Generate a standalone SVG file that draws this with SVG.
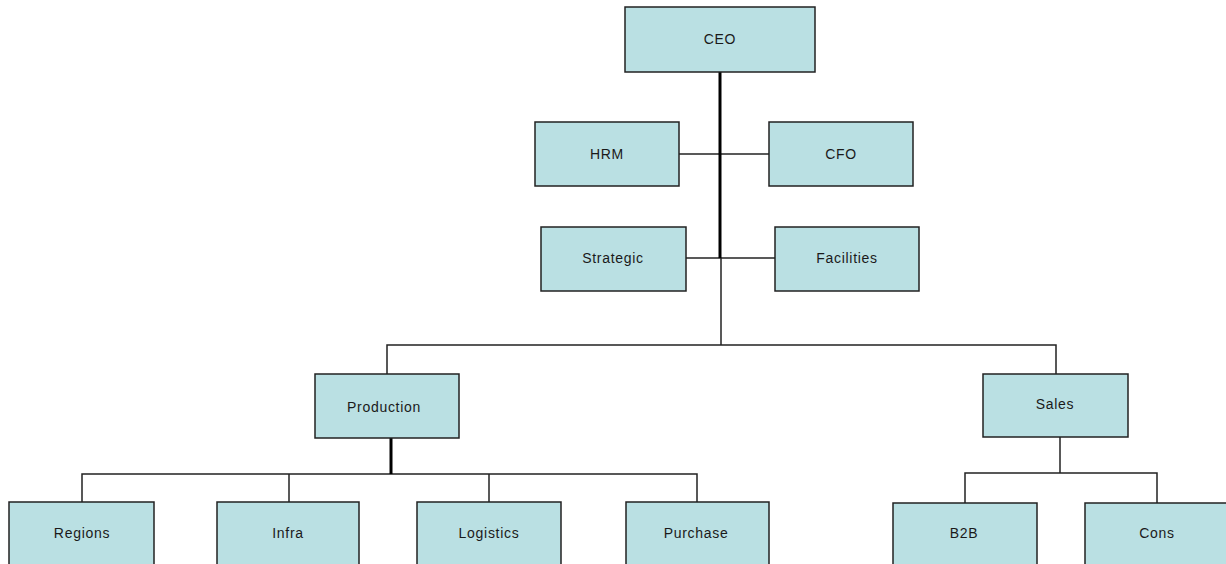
<svg xmlns="http://www.w3.org/2000/svg" width="1226" height="564" viewBox="0 0 1226 564">
<style>
.box{fill:#bae0e3;stroke:#222;stroke-width:1.5}
.lbl{font-family:"Liberation Sans",Arial,sans-serif;font-size:14px;letter-spacing:0.7px;fill:#1a1a1a;text-anchor:middle;dominant-baseline:central}
.ln{stroke:#222;stroke-width:1.5;fill:none}
.th{stroke:#000;stroke-width:3;fill:none}
</style>
<rect width="1226" height="564" fill="#fff"/>
<g id="connectors">
<path class="ln" d="M679 154H769"/>
<path class="ln" d="M686 258H775"/>
<path class="ln" d="M721 258V345"/>
<path class="ln" d="M387 374V345H1056V374"/>
<path class="ln" d="M82 502V474H697V502"/>
<path class="ln" d="M289 474V502"/>
<path class="ln" d="M489 474V502"/>
<path class="ln" d="M1060 437V473"/>
<path class="ln" d="M965 503V473H1157V503"/>
<path class="th" d="M720 72V258"/>
<path class="th" d="M391 438V474"/>
</g>
<g id="ceo"><rect class="box" x="625" y="7" width="190" height="65"/><text class="lbl" x="720" y="39">CEO</text></g>
<g id="hrm"><rect class="box" x="535" y="122" width="144" height="64"/><text class="lbl" x="607" y="154">HRM</text></g>
<g id="cfo"><rect class="box" x="769" y="122" width="144" height="64"/><text class="lbl" x="841" y="154">CFO</text></g>
<g id="strategic"><rect class="box" x="541" y="227" width="145" height="64"/><text class="lbl" x="613" y="258">Strategic</text></g>
<g id="facilities"><rect class="box" x="775" y="227" width="144" height="64"/><text class="lbl" x="847" y="258">Facilities</text></g>
<g id="production"><rect class="box" x="315" y="374" width="144" height="64"/><text class="lbl" x="384" y="407">Production</text></g>
<g id="sales"><rect class="box" x="983" y="374" width="145" height="63"/><text class="lbl" x="1055" y="404">Sales</text></g>
<g id="regions"><rect class="box" x="9" y="502" width="145" height="66"/><text class="lbl" x="82" y="533">Regions</text></g>
<g id="infra"><rect class="box" x="217" y="502" width="142" height="66"/><text class="lbl" x="288" y="533">Infra</text></g>
<g id="logistics"><rect class="box" x="417" y="502" width="144" height="66"/><text class="lbl" x="489" y="533">Logistics</text></g>
<g id="purchase"><rect class="box" x="626" y="502" width="143" height="66"/><text class="lbl" x="696" y="533">Purchase</text></g>
<g id="b2b"><rect class="box" x="893" y="503" width="144" height="66"/><text class="lbl" x="964" y="533">B2B</text></g>
<g id="cons"><rect class="box" x="1085" y="503" width="144" height="66"/><text class="lbl" x="1157" y="533">Cons</text></g>
</svg>
